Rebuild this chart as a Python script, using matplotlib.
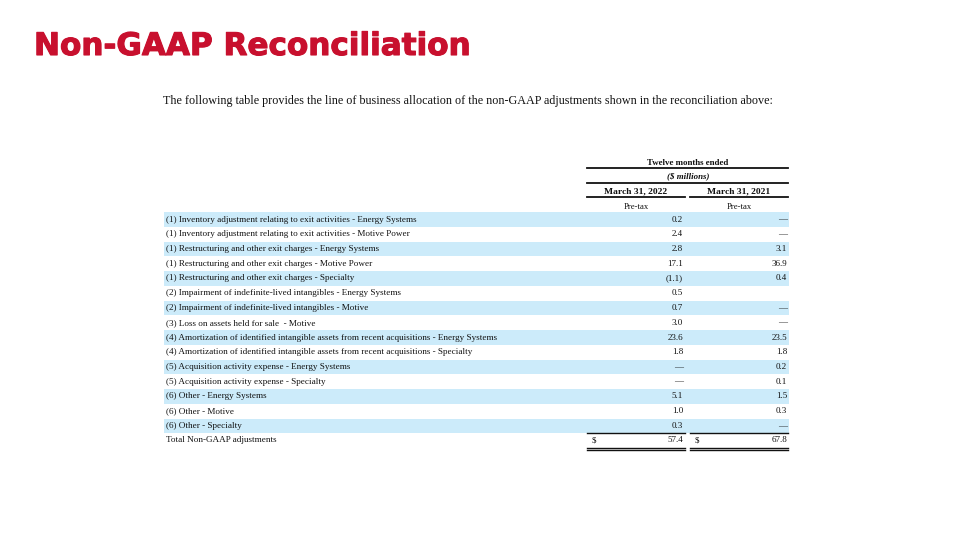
import matplotlib.pyplot as plt
import matplotlib.patheffects as pe

title = "Non-GAAP Reconciliation"
intro = ("The following table provides the line of business allocation of the "
         "non-GAAP adjustments shown in the reconciliation above:")
labels = [
    "(1) Inventory adjustment relating to exit activities - Energy Systems",
    "(1) Inventory adjustment relating to exit activities - Motive Power",
    "(1) Restructuring and other exit charges - Energy Systems",
    "(1) Restructuring and other exit charges - Motive Power",
    "(1) Restructuring and other exit charges - Specialty",
    "(2) Impairment of indefinite-lived intangibles - Energy Systems",
    "(2) Impairment of indefinite-lived intangibles - Motive",
    "(3) Loss on assets held for sale  - Motive",
    "(4) Amortization of identified intangible assets from recent acquisitions - Energy Systems",
    "(4) Amortization of identified intangible assets from recent acquisitions - Specialty",
    "(5) Acquisition activity expense - Energy Systems",
    "(5) Acquisition activity expense - Specialty",
    "(6) Other - Energy Systems",
    "(6) Other - Motive",
    "(6) Other - Specialty",
]
fy2022 = [0.2, 2.4, 2.8, 17.1, -1.1, 0.5, 0.7, 3.0, 23.6, 1.8, 0, 0, 5.1, 1.0, 0.3]
fy2021 = [0, 0, 3.1, 36.9, 0.4, None, 0, 0, 23.5, 1.8, 0.2, 0.1, 1.5, 0.3, 0]
periods = ["March 31, 2022", "March 31, 2021"]


def fmt(v):
    if v is None:
        return ""
    if v == 0:
        return "\u2014"
    if v < 0:
        return "(%.1f)" % -v
    return "%.1f" % v


RED = "#C8102E"
BAND = "#CCEBFA"
INK = "#111111"
serif = ["Liberation Serif", "DejaVu Serif"]

fig = plt.figure(figsize=(9.6, 5.4), dpi=100)
ax = fig.add_axes([0, 0, 1, 1])
ax.set_xlim(0, 960)
ax.set_ylim(540, 0)
ax.axis("off")

# title, sized to span the same width as the reference; thin stroke makes it heavier
t = ax.text(34, 46.5, title, color=RED, fontsize=24, fontweight="bold",
            family=["DejaVu Sans"], va="center",
            path_effects=[pe.withStroke(linewidth=0.8, foreground=RED)])
fig.canvas.draw()
w = t.get_window_extent().width
t.set_fontsize(24 * 437 / w)

ax.text(163, 101, intro, family=serif, fontsize=8.75, color=INK, va="center")

# header block
ax.text(688, 163, "Twelve months ended", family=serif, fontsize=6.4,
        fontweight="bold", ha="center", va="center", color=INK)
ax.plot([587, 788], [168, 168], color=INK, lw=1.3)
ax.text(688, 176, "($ millions)", family=serif, fontsize=6.4, fontweight="bold",
        style="italic", ha="center", va="center", color=INK)
ax.plot([587, 788], [183, 183], color=INK, lw=1.3)
cols = [(587, 685, 683), (690, 788, 787)]
for (x0, x1, xr), p in zip(cols, periods):
    ax.text((x0 + x1) / 2, 191, p, family=serif, fontsize=6.8, fontweight="bold",
            ha="center", va="center", color=INK)
    ax.plot([x0, x1], [197, 197], color=INK, lw=1.3)
    ax.text((x0 + x1) / 2, 207, "Pre-tax", family=serif, fontsize=6.2,
            ha="center", va="center", color=INK)

# body rows
y0, step = 219.5, 14.75
for i, lab in enumerate(labels):
    y = y0 + i * step
    if i % 2 == 0:
        ax.fill_between([164, 789], y - step / 2, y + step / 2, color=BAND, lw=0)
    ax.text(166, y, lab, family=serif, fontsize=6.55, va="center", color=INK)
    for (x0, x1, xr), v in zip(cols, [fy2022[i], fy2021[i]]):
        ax.text(xr, y, fmt(v), family=serif, fontsize=6.5, ha="right",
                va="center", color=INK)

# totals
yt = y0 + len(labels) * step - 0.5
ax.text(166, yt, "Total Non-GAAP adjustments", family=serif, fontsize=6.6,
        va="center", color=INK)
totals = [sum(v for v in fy2022 if v is not None),
          sum(v for v in fy2021 if v is not None)]
for (x0, x1, xr), tot in zip(cols, totals):
    ax.plot([x0, x1], [433, 433], color=INK, lw=1.0)
    ax.text(x0 + 5, yt, "$", family=serif, fontsize=6.5, va="center", color=INK)
    ax.text(xr, yt, "%.1f" % tot, family=serif, fontsize=6.5, ha="right",
            va="center", color=INK)
    ax.plot([x0, x1], [447.5, 447.5], color=INK, lw=1.0)
    ax.plot([x0, x1], [450, 450], color=INK, lw=1.0)

fig.savefig("out.png", dpi=100, facecolor="white")
